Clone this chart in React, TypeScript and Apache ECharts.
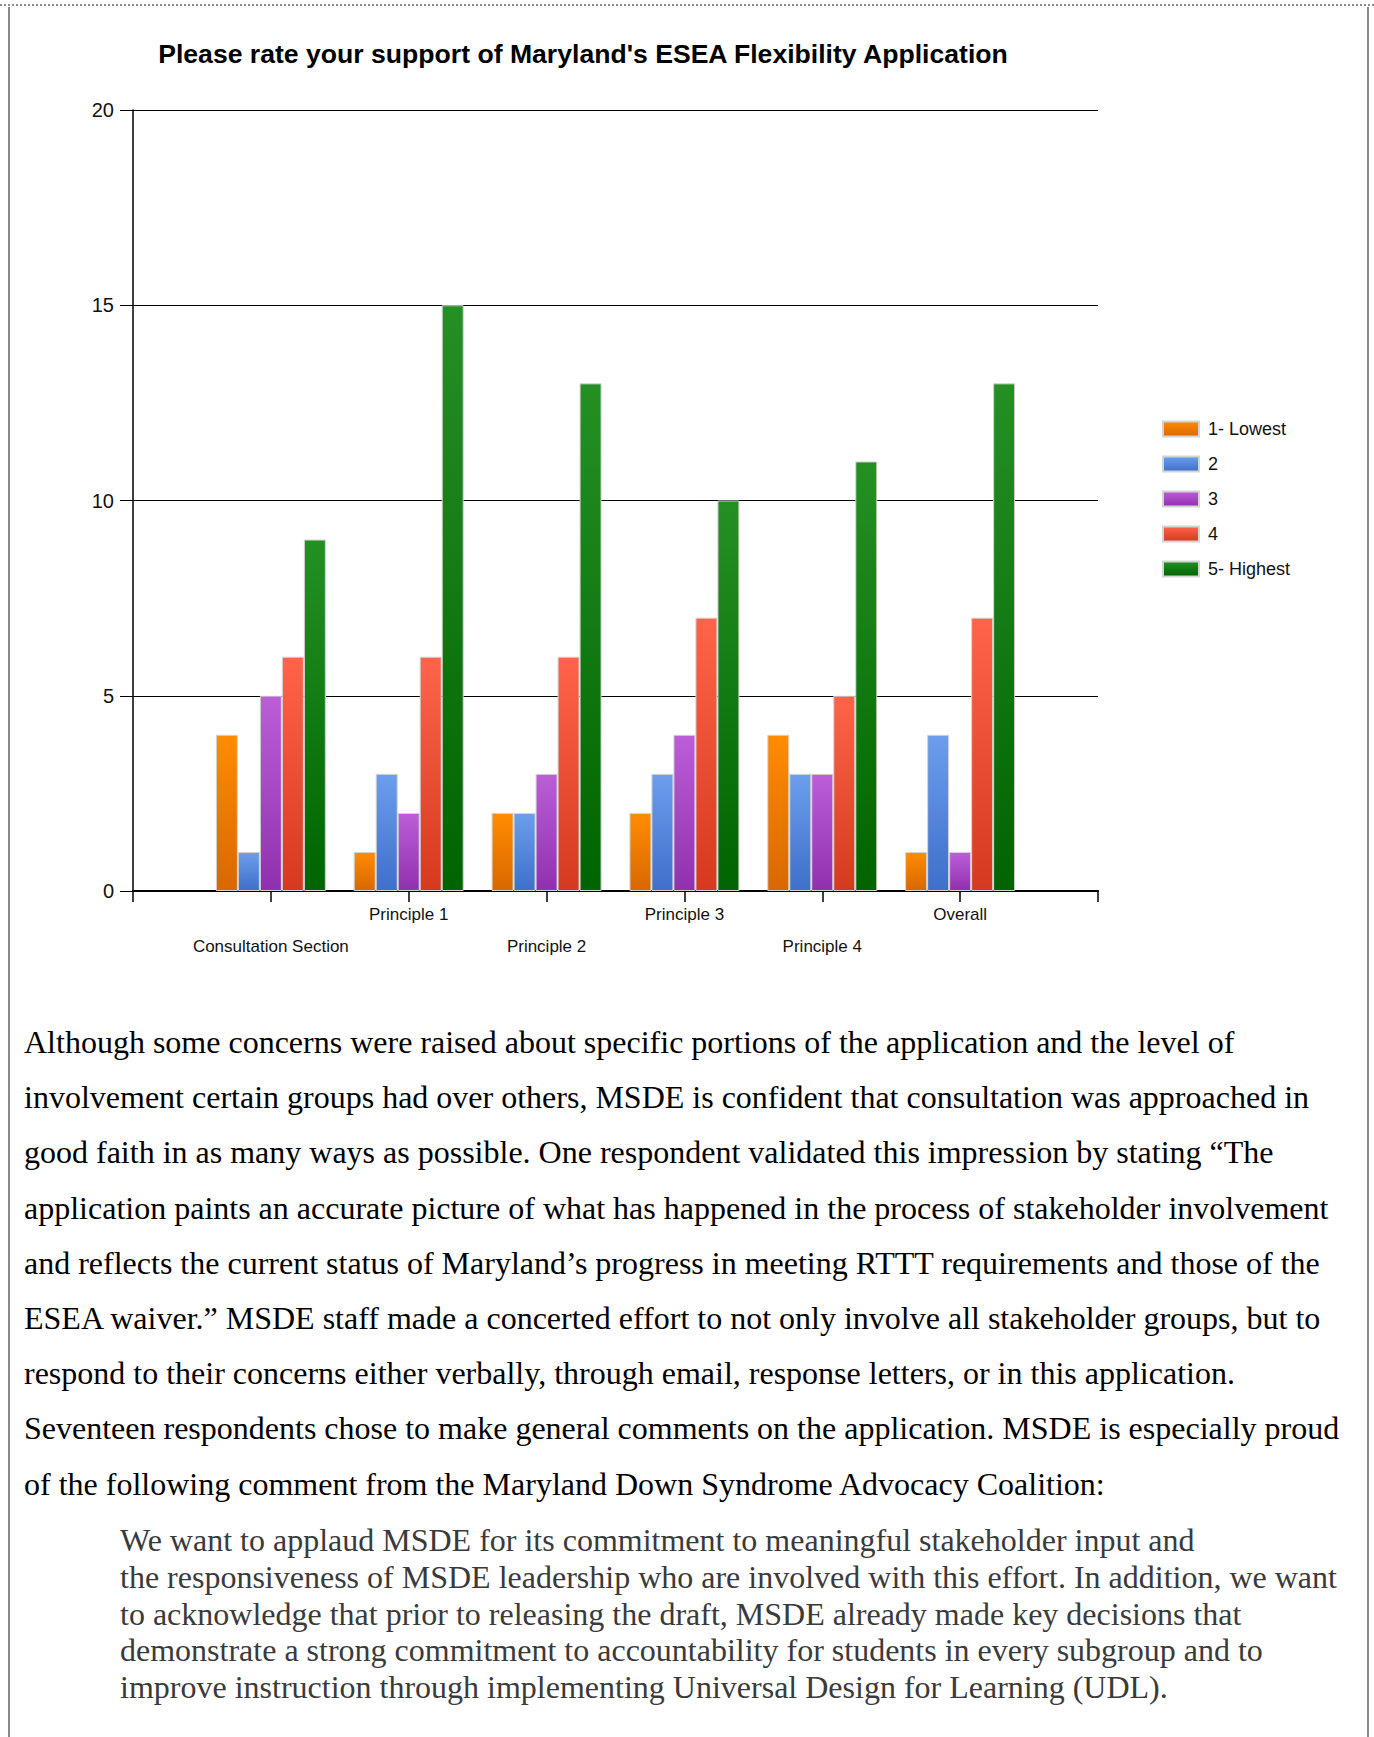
import React, { useEffect, useRef } from "react";
import * as echarts from "echarts";

const titleText = "Please rate your support of Maryland's ESEA Flexibility Application";
const categories = [
  "Consultation Section",
  "Principle 1",
  "Principle 2",
  "Principle 3",
  "Principle 4",
  "Overall",
];
const seriesNames = ["1- Lowest", "2", "3", "4", "5- Highest"];
const lowest = [4, 1, 2, 2, 4, 1];
const rating2 = [1, 3, 2, 3, 3, 4];
const rating3 = [5, 2, 3, 4, 3, 1];
const rating4 = [6, 6, 6, 7, 5, 7];
const highest = [9, 15, 13, 10, 11, 13];
const yMin = 0;
const yMax = 20;
const yStep = 5;

const gradientStops = [
  ["#FF8C00", "#D86800"],
  ["#6C9EEC", "#3E6FCB"],
  ["#BC5ED8", "#9030AE"],
  ["#FF644B", "#D53A20"],
  ["#249024", "#006400"],
];

const paragraphLines = [
  "Although some concerns were raised about specific portions of the application and the level of",
  "involvement certain groups had over others, MSDE is confident that consultation was approached in",
  "good faith in as many ways as possible. One respondent validated this impression by stating \u201cThe",
  "application paints an accurate picture of what has happened in the process of stakeholder involvement",
  "and reflects the current status of Maryland\u2019s progress in meeting RTTT requirements and those of the",
  "ESEA waiver.\u201d MSDE staff made a concerted effort to not only involve all stakeholder groups, but to",
  "respond to their concerns either verbally, through email, response letters, or in this application.",
  "Seventeen respondents chose to make general comments on the application. MSDE is especially proud",
  "of the following comment from the Maryland Down Syndrome Advocacy Coalition:",
];

const quoteLines = [
  "We want to applaud MSDE for its commitment to meaningful stakeholder input and",
  "the responsiveness of MSDE leadership who are involved with this effort. In addition, we want",
  "to acknowledge that prior to releasing the draft, MSDE already made key decisions that",
  "demonstrate a strong commitment to accountability for students in every subgroup and to",
  "improve instruction through implementing Universal Design for Learning (UDL).",
];

const SANS = "'Liberation Sans', Arial, sans-serif";
const SERIF = "'Liberation Serif', 'Times New Roman', serif";

function Chart() {
  const ref = useRef<HTMLDivElement>(null);
  useEffect(() => {
    if (!ref.current) return;
    const chart = echarts.init(ref.current, undefined, { renderer: "svg" });
    const values = [lowest, rating2, rating3, rating4, highest];
    const axisData = ["", ...categories, ""];
    const series = values.map((vals, i) => ({
      name: seriesNames[i],
      type: "bar",
      barWidth: 22,
      barGap: "0%",
      data: ["-", ...vals, "-"],
      itemStyle: {
        color: {
          type: "linear",
          x: 0,
          y: 0,
          x2: 0,
          y2: 1,
          colorStops: [
            { offset: 0, color: gradientStops[i][0] },
            { offset: 1, color: gradientStops[i][1] },
          ],
        },
        borderColor: "#d4d4d4",
        borderWidth: 1,
      },
    }));
    chart.setOption({
      animation: false,
      backgroundColor: "transparent",
      textStyle: { fontFamily: SANS },
      graphic: [
        {
          type: "text",
          x: 583,
          y: 54,
          style: {
            text: titleText,
            font: `bold 26.6px ${SANS}`,
            fill: "#000",
            textAlign: "center",
            textVerticalAlign: "middle",
          },
        },
      ],
      legend: {
        orient: "vertical",
        left: 1162,
        top: 420,
        padding: 0,
        itemWidth: 36,
        itemHeight: 15,
        itemGap: 17,
        icon: "rect",
        selectedMode: false,
        textStyle: {
          fontSize: 18,
          lineHeight: 18,
          color: "#111",
          fontFamily: SANS,
          padding: [0, 0, 0, 4],
        },
        data: seriesNames,
      },
      grid: { left: 133, top: 110, width: 965, height: 781, containLabel: false },
      xAxis: {
        type: "category",
        data: axisData,
        boundaryGap: false,
        axisLine: { show: true, lineStyle: { color: "#000", width: 2 } },
        axisTick: { show: true, length: 11, interval: 0, lineStyle: { color: "#000", width: 1.5 } },
        axisLabel: {
          interval: 0,
          fontSize: 17,
          lineHeight: 32,
          margin: 7,
          color: "#111",
          fontFamily: SANS,
          formatter: (v: string, i: number) => (i % 2 === 1 ? "\n" + v : v),
        },
        splitLine: { show: false },
      },
      yAxis: {
        type: "value",
        min: yMin,
        max: yMax,
        interval: yStep,
        axisLine: { show: true, lineStyle: { color: "#000", width: 1.5 } },
        axisTick: { show: true, length: 13, lineStyle: { color: "#000", width: 1 } },
        axisLabel: { fontSize: 20, margin: 19, color: "#111", fontFamily: SANS },
        splitLine: { show: true, lineStyle: { color: "#000", width: 1.2 } },
      },
      series,
    });
    return () => chart.dispose();
  }, []);
  return (
    <div
      ref={ref}
      style={{ position: "absolute", left: 0, top: 0, width: 1374, height: 990 }}
    />
  );
}

export default function App() {
  return (
    <div
      style={{
        position: "absolute",
        left: 0,
        top: 0,
        width: 1374,
        height: 1737,
        background: "#fff",
        overflow: "hidden",
      }}
    >
      <Chart />
      <div
        style={{
          position: "absolute",
          left: 24,
          top: 1015,
          fontFamily: SERIF,
          fontSize: 32,
          lineHeight: "55.2px",
          color: "#000",
        }}
      >
        {paragraphLines.map((l, i) => (
          <div key={i} style={{ whiteSpace: "nowrap" }}>
            {l}
          </div>
        ))}
      </div>
      <div
        style={{
          position: "absolute",
          left: 120,
          top: 1522,
          fontFamily: SERIF,
          fontSize: 32,
          lineHeight: "36.8px",
          color: "#3a3a3a",
        }}
      >
        {quoteLines.map((l, i) => (
          <div key={i} style={{ whiteSpace: "nowrap" }}>
            {l}
          </div>
        ))}
      </div>
      <div
        style={{
          position: "absolute",
          left: 0,
          top: 4,
          width: 1374,
          height: 0,
          borderTop: "2px dotted #8a8a8a",
          pointerEvents: "none",
        }}
      />
      <div style={{ position: "absolute", left: 8, top: 7, width: 2, height: 1730, background: "#8a8a8a", pointerEvents: "none" }} />
      <div style={{ position: "absolute", left: 1367, top: 7, width: 2, height: 1730, background: "#8a8a8a", pointerEvents: "none" }} />
    </div>
  );
}
